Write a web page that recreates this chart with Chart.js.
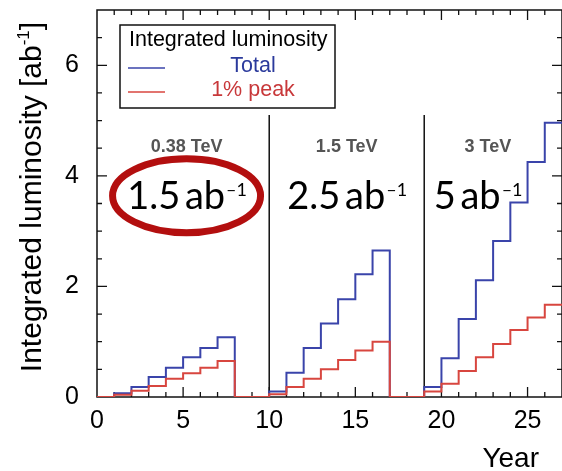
<!DOCTYPE html>
<html>
<head>
<meta charset="utf-8">
<script src="https://cdn.jsdelivr.net/npm/chart.js@4.4.1/dist/chart.umd.min.js"></script>
<style>
  html, body { margin: 0; padding: 0; background: #fff; }
  #wrap { width: 562px; height: 471px; }
</style>
</head>
<body>
<div id="wrap"><canvas id="lumiChart" width="562" height="471"></canvas></div>
<script>
// ===== DATA =====
// left edge of each one-year bin
const years = [0, 1, 2, 3, 4, 5, 6, 7, 8, 9, 10, 11, 12, 13, 14, 15, 16, 17, 18, 19, 20, 21, 22, 23, 24, 25, 26];
// cumulative luminosity per stage [ab^-1]
const totalLumi = [0, 0.07, 0.18, 0.36, 0.53, 0.72, 0.885, 1.08, 0, 0,
                   0.1, 0.44, 0.885, 1.33, 1.77, 2.22, 2.65, 0, 0,
                   0.18, 0.70, 1.41, 2.11, 2.82, 3.52, 4.25, 4.96];
const peakLumi  = [0, 0.04, 0.115, 0.2, 0.33, 0.43, 0.53, 0.65, 0, 0,
                   0.05, 0.18, 0.33, 0.5, 0.67, 0.84, 1.0, 0, 0,
                   0.1, 0.24, 0.47, 0.72, 0.96, 1.21, 1.44, 1.67];
const stageNames = ["0.38 TeV", "1.5 TeV", "3 TeV"];
const stageTotals = ["1.5", "2.5", "5"];
const stageBreaks = [10, 19];
const breakTop = 5.1;
const xTicks = [0, 5, 10, 15, 20, 25];
const yTicks = [0, 2, 4, 6];
const seriesNames = ["Total", "1% peak"];

const BLUE = "#3a44aa";
const RED = "#d8463f";
const AXIS_FONT = "'Liberation Sans', Arial, sans-serif";
const NOTE_FONT = "Lato, 'Noto Sans', sans-serif";

// histogram outline: one point per bin edge, last bin closed at its right edge
function stepPoints(values) {
  const pts = years.map((yr, i) => ({ x: yr, y: values[i] }));
  pts.push({ x: years[years.length - 1] + 1, y: values[values.length - 1] });
  return pts;
}

// ===== FRAME + INWARD TICKS + DIVIDERS =====
const framePlugin = {
  id: "frame",
  beforeDatasetsDraw(chart) {
    const { ctx, chartArea: a, scales: { x, y } } = chart;
    ctx.save();
    ctx.strokeStyle = "#111";
    ctx.lineWidth = 1.5;
    ctx.strokeRect(a.left, a.top, a.right - a.left, a.bottom - a.top);

    ctx.lineWidth = 1.3;
    ctx.beginPath();
    for (let v = 1; v < x.max; v++) {
      const px = x.getPixelForValue(v);
      const len = v % 5 === 0 ? 10 : 5;
      ctx.moveTo(px, a.bottom); ctx.lineTo(px, a.bottom - len);
      ctx.moveTo(px, a.top); ctx.lineTo(px, a.top + len);
    }
    for (let v = 0.5; v < y.max; v += 0.5) {
      const py = y.getPixelForValue(v);
      const len = v % 2 === 0 ? 10 : 5;
      ctx.moveTo(a.left, py); ctx.lineTo(a.left + len, py);
      ctx.moveTo(a.right, py); ctx.lineTo(a.right - len, py);
    }
    ctx.stroke();

    // stage separators
    ctx.lineWidth = 1.5;
    ctx.beginPath();
    stageBreaks.forEach(b => {
      const px = x.getPixelForValue(b);
      ctx.moveTo(px, y.getPixelForValue(0));
      ctx.lineTo(px, y.getPixelForValue(breakTop));
    });
    ctx.stroke();
    ctx.restore();
  }
};

// ===== LABELS, LEGEND, ANNOTATIONS =====
const notesPlugin = {
  id: "notes",
  afterDraw(chart) {
    const { ctx, scales: { x, y } } = chart;
    ctx.save();

    // stage energies
    ctx.fillStyle = "#555";
    ctx.font = "bold 18px " + AXIS_FONT;
    ctx.textAlign = "center";
    ctx.textBaseline = "alphabetic";
    [5.2, 14.5, 22.7].forEach((xv, i) => {
      ctx.fillText(stageNames[i], x.getPixelForValue(xv), y.getPixelForValue(4.55) + 6.5);
    });

    // integrated totals per stage
    ctx.fillStyle = "#000";
    [5.2, 14.5, 22.1].forEach((xv, i) => {
      const cx = x.getPixelForValue(xv);
      const by = y.getPixelForValue(3.64) + 13;
      const base = stageTotals[i] + "\u2009ab";
      ctx.font = "38px " + NOTE_FONT;
      const w1 = ctx.measureText(base).width;
      ctx.font = "18px " + NOTE_FONT;
      const w2 = ctx.measureText("\u20131").width;
      const sx = cx - (w1 + w2) / 2;
      ctx.textAlign = "left";
      ctx.font = "38px " + NOTE_FONT;
      ctx.fillText(base, sx, by);
      ctx.font = "18px " + NOTE_FONT;
      ctx.fillText("\u20131", sx + w1 + 1, by - 13);
    });

    // ring round the first stage total
    ctx.strokeStyle = "#b30f0f";
    ctx.lineWidth = 7;
    ctx.beginPath();
    ctx.ellipse(x.getPixelForValue(5.2), y.getPixelForValue(3.64), 74, 37, 0, 0, Math.PI * 2);
    ctx.stroke();

    // legend box
    const lx = 120, ly = 25, lw = 215, lh = 83;
    ctx.fillStyle = "#fff";
    ctx.fillRect(lx, ly, lw, lh);
    ctx.strokeStyle = "#111";
    ctx.lineWidth = 1.5;
    ctx.strokeRect(lx, ly, lw, lh);
    ctx.fillStyle = "#000";
    ctx.font = "21.5px " + AXIS_FONT;
    ctx.textAlign = "left";
    ctx.textBaseline = "middle";
    ctx.fillText("Integrated luminosity", 129, 40);
    const colors = [BLUE, RED];
    const textColors = ["#2b3a9c", "#c8383a"];
    [66, 90].forEach((ry, i) => {
      ctx.strokeStyle = colors[i];
      ctx.lineWidth = 1.5;
      ctx.beginPath();
      ctx.moveTo(128, ry + 2); ctx.lineTo(165, ry + 2);
      ctx.stroke();
      ctx.fillStyle = textColors[i];
      ctx.textAlign = "center";
      ctx.fillText(seriesNames[i], 253, ry);
    });

    // axis titles
    ctx.fillStyle = "#000";
    ctx.textAlign = "right";
    ctx.textBaseline = "alphabetic";
    ctx.font = "28px " + AXIS_FONT;
    ctx.fillText("Year", 539, 467);

    ctx.translate(41, 197);
    ctx.rotate(-Math.PI / 2);
    ctx.font = "30px " + AXIS_FONT;
    const t1 = "Integrated luminosity [ab";
    const w1 = ctx.measureText(t1).width;
    ctx.font = "17px " + AXIS_FONT;
    const w2 = ctx.measureText("-1").width;
    ctx.font = "30px " + AXIS_FONT;
    const w3 = ctx.measureText("]").width;
    const sx = -(w1 + w2 + w3) / 2;
    ctx.textAlign = "left";
    ctx.fillText(t1, sx, 0);
    ctx.font = "17px " + AXIS_FONT;
    ctx.fillText("-1", sx + w1, -12);
    ctx.font = "30px " + AXIS_FONT;
    ctx.fillText("]", sx + w1 + w2, 0);
    ctx.restore();
  }
};

// ===== CHART =====
new Chart(document.getElementById("lumiChart"), {
  type: "line",
  data: {
    datasets: [
      { label: seriesNames[1], data: stepPoints(peakLumi), borderColor: RED,
        borderWidth: 2, stepped: "before", pointRadius: 0, fill: false, order: 0 },
      { label: seriesNames[0], data: stepPoints(totalLumi), borderColor: BLUE,
        borderWidth: 2, stepped: "before", pointRadius: 0, fill: false, order: 1 }
    ]
  },
  options: {
    responsive: false,
    animation: false,
    devicePixelRatio: 1,
    layout: { padding: { top: 10, right: 0, left: 0, bottom: 0 } },
    plugins: { legend: { display: false }, tooltip: { enabled: false } },
    scales: {
      x: {
        type: "linear", min: 0, max: 27,
        grid: { display: false }, border: { display: false },
        afterBuildTicks: s => { s.ticks = xTicks.map(v => ({ value: v })); },
        afterFit: s => { s.height = 74; s.paddingLeft = 0; s.paddingRight = 0; },
        ticks: { color: "#000", padding: 1, maxRotation: 0, font: { family: AXIS_FONT, size: 25 } }
      },
      y: {
        min: 0, max: 7,
        grid: { display: false }, border: { display: false },
        afterBuildTicks: s => { s.ticks = yTicks.map(v => ({ value: v })); },
        afterFit: s => { s.width = 97; s.paddingTop = 0; s.paddingBottom = 0; },
        ticks: { color: "#000", padding: 10, font: { family: AXIS_FONT, size: 25 } }
      }
    }
  },
  plugins: [framePlugin, notesPlugin]
});
</script>
</body>
</html>
